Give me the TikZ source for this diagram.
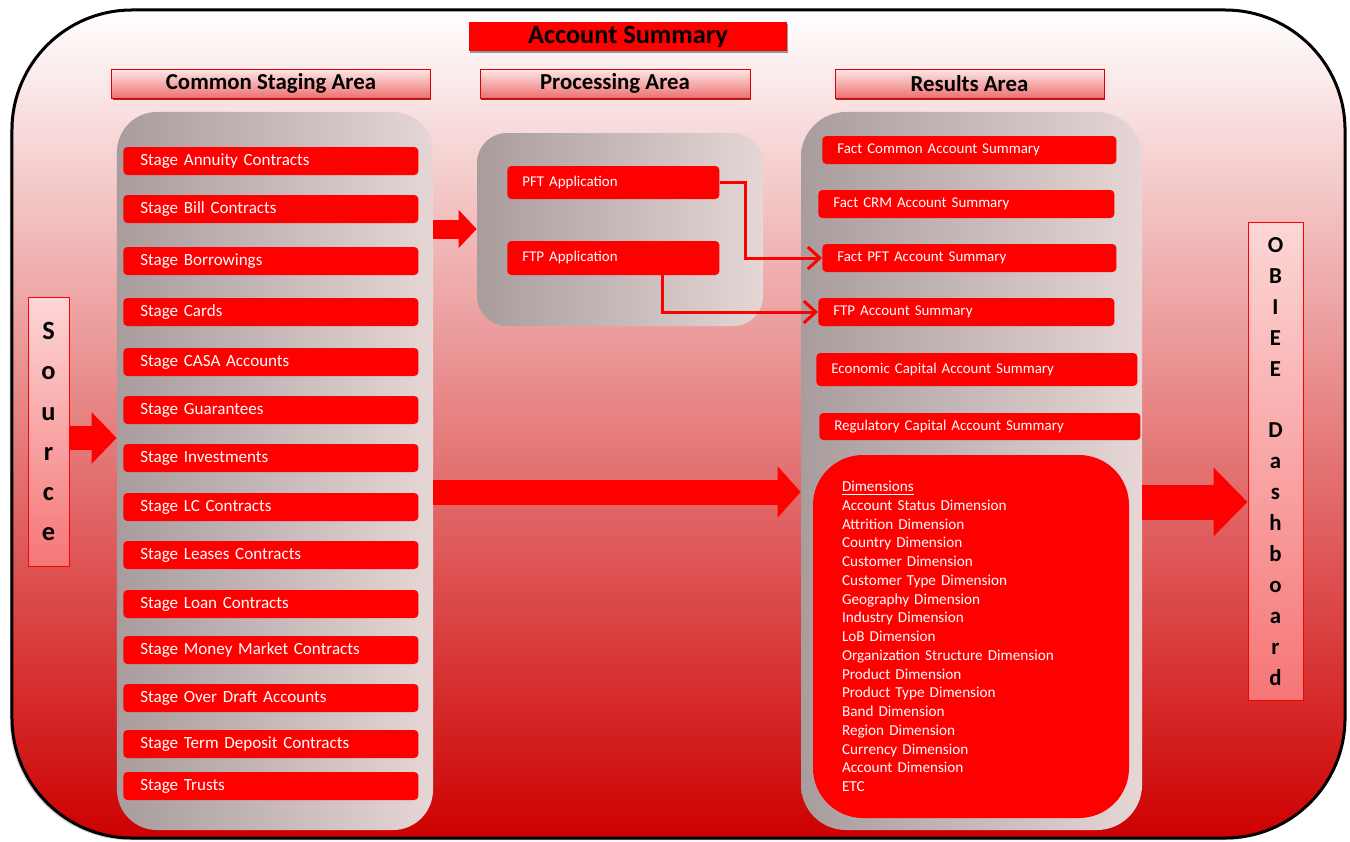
\documentclass[tikz,border=0pt]{standalone}
\usepackage{fontspec}
\setmainfont{Carlito}
\usepackage{tikz}
\usetikzlibrary{arrows.meta}
\usetikzlibrary{shadows}
\definecolor{bgmid}{RGB}{222,112,112}
\definecolor{bgbot}{RGB}{205,0,0}
\definecolor{hdtop}{RGB}{253,232,232}
\definecolor{hdbot}{RGB}{238,112,112}
\definecolor{pnldark}{RGB}{168,156,156}
\definecolor{pnllight}{RGB}{230,214,214}
\definecolor{tagtop}{RGB}{252,214,214}
\definecolor{tagbot}{RGB}{246,118,118}

\begin{document}
\begin{tikzpicture}[x=0.2mm,y=-0.2mm,
    board/.style={draw=black,line width=0.6mm,rounded corners=24mm,top color=white,middle color=bgmid,bottom color=bgbot,
      minimum width=266.6mm,minimum height=165.6mm,drop shadow={fill=gray!70,shadow xshift=-1.2pt,shadow yshift=-1.2pt}},
    panel/.style={left color=pnldark,right color=pnllight,inner sep=0pt},
    header/.style={draw=red!85!black,line width=0.2mm,top color=hdtop,bottom color=hdbot,minimum height=5.8mm,inner sep=0pt,
      font=\bfseries\fontsize{13}{15}\selectfont,drop shadow={fill=red!50!black,shadow xshift=0.6pt,shadow yshift=-1.2pt,opacity=0.8}},
    title/.style={fill=red,minimum width=63.6mm,minimum height=5.8mm,inner sep=0pt,
      font=\bfseries\fontsize{15}{17}\selectfont,drop shadow={fill=black!50,shadow xshift=0.6pt,shadow yshift=-1.2pt,opacity=0.8}},
    stage/.style={fill=red,rounded corners=0.8mm,text=white,anchor=west,text width=52.2mm,inner xsep=3.4mm,inner ysep=0pt,
      minimum height=5.6mm,align=left,font=\fontsize{9.7}{11}\selectfont},
    fact/.style={fill=red,rounded corners=0.8mm,text=white,anchor=west,inner xsep=3mm,inner ysep=0pt,
      minimum height=5.6mm,align=left,font=\fontsize{8.5}{10}\selectfont},
    dims/.style={fill=red,rounded corners=10mm,text=white,text width=51.6mm,inner xsep=5.8mm,minimum height=72.6mm,
      align=left,font=\fontsize{8.65}{10.67}\selectfont},
    tag/.style={draw=red,line width=0.2mm,top color=tagtop,bottom color=tagbot,align=center,inner sep=0pt},
    fatarrow/.style={draw=red,line width=#1},
    link/.style={draw=red,line width=0.6mm,-{Straight Barb[length=2.4mm,width=4.4mm]}}]

      \useasboundingbox (0,0) rectangle (1350,841);

      \node[board] (board) at (678.5,424) {};

      \node[panel,minimum width=63.2mm,minimum height=143.6mm,rounded corners=8mm] (staging) at (275,471) {};
      \node[panel,minimum width=57.2mm,minimum height=38.6mm,rounded corners=6mm] (process) at (620,229.5) {};
      \node[panel,minimum width=68.2mm,minimum height=143.6mm,rounded corners=9mm] (results) at (971.5,471) {};

      \node[title] (summary) at (628,36.5) {Account Summary};
      \node[header,minimum width=63.6mm] (stagehead) at (271,83.5) {Common Staging Area};
      \node[header,minimum width=54mm] (processhead) at (615,83.5) {Processing Area};
      \node[header,minimum width=53.8mm] (resultshead) at (969.5,83.5) {Results Area};

      \node[tag,minimum width=8.2mm,minimum height=53.8mm,font=\bfseries\fontsize{15}{22.8}\selectfont] (source) at (48.5,431.5)
        {S\\o\\u\\r\\c\\e};
      \node[tag,minimum width=11mm,minimum height=95.4mm,font=\bfseries\fontsize{13}{17.6}\selectfont] (obiee) at (1275.5,461.5)
        {O\\B\\I\\E\\E\\[17.6pt]D\\a\\s\\h\\b\\o\\a\\r\\d};

      \node[stage] (annuity) at (123,161) {Stage Annuity Contracts};
      \node[stage] (bill) at (123,209) {Stage Bill Contracts};
      \node[stage] (borrow) at (123,261) {Stage Borrowings};
      \node[stage] (cards) at (123,312) {Stage Cards};
      \node[stage] (casa) at (123,362) {Stage CASA Accounts};
      \node[stage] (guarantee) at (123,410) {Stage Guarantees};
      \node[stage] (invest) at (123,458) {Stage Investments};
      \node[stage] (lc) at (123,507) {Stage LC Contracts};
      \node[stage] (leases) at (123,555) {Stage Leases Contracts};
      \node[stage] (loan) at (123,604) {Stage Loan Contracts};
      \node[stage] (money) at (123,650) {Stage Money Market Contracts};
      \node[stage] (overdraft) at (123,698) {Stage Over Draft Accounts};
      \node[stage] (termdep) at (123,744) {Stage Term Deposit Contracts};
      \node[stage] (trusts) at (123,786) {Stage Trusts};

      \node[fact,text width=36.4mm,minimum height=6.6mm] (pft) at (507,182.5) {PFT Application};
      \node[fact,text width=36.4mm,minimum height=6.8mm] (ftp) at (507,258) {FTP Application};

      \node[fact,text width=52.8mm] (factcommon) at (822,150) {Fact Common Account Summary};
      \node[fact,text width=53.2mm] (factcrm) at (818,204) {Fact CRM Account Summary};
      \node[fact,text width=52.8mm] (factpft) at (822,258) {Fact PFT Account Summary};
      \node[fact,text width=53.2mm] (ftpsum) at (818,312) {FTP Account Summary};
      \node[fact,text width=58.2mm,minimum height=6.6mm] (ecocap) at (816,369.5) {Economic Capital Account Summary};
      \node[fact,text width=58.2mm,minimum height=5.4mm] (regcap) at (819,426.5) {Regulatory Capital Account Summary};

      \node[dims] (dims) at (971,636.5) {\underline{Dimensions}\\Account Status Dimension\\Attrition Dimension\\Country Dimension\\
        Customer Dimension\\Customer Type Dimension\\Geography Dimension\\Industry Dimension\\LoB Dimension\\
        Organization Structure Dimension\\Product Dimension\\Product Type Dimension\\Band Dimension\\Region Dimension\\
        Currency Dimension\\Account Dimension\\ETC};

      \draw[fatarrow=4.8mm,-{Triangle[length=5mm,width=10mm]}] (source.east |- 0,438) -- (staging.west |- 0,438);
      \draw[fatarrow=3.8mm,-{Triangle[length=3.6mm,width=7.4mm]}] (staging.east |- 0,229) -- (process.west |- 0,229);
      \draw[fatarrow=5mm,-{Triangle[length=4.6mm,width=10mm]}] (staging.east |- 0,492) -- (results.west |- 0,492);
      \draw[fatarrow=7mm,-{Triangle[length=6.8mm,width=13.4mm]}] (results.east |- 0,502) -- (obiee.west |- 0,502);

      \draw[link] (pft.east) -- ++(26,0) |- (factpft.west);
      \draw[link] (ftp.south -| 662,0) |- (ftpsum.west);

\end{tikzpicture}
\end{document}
